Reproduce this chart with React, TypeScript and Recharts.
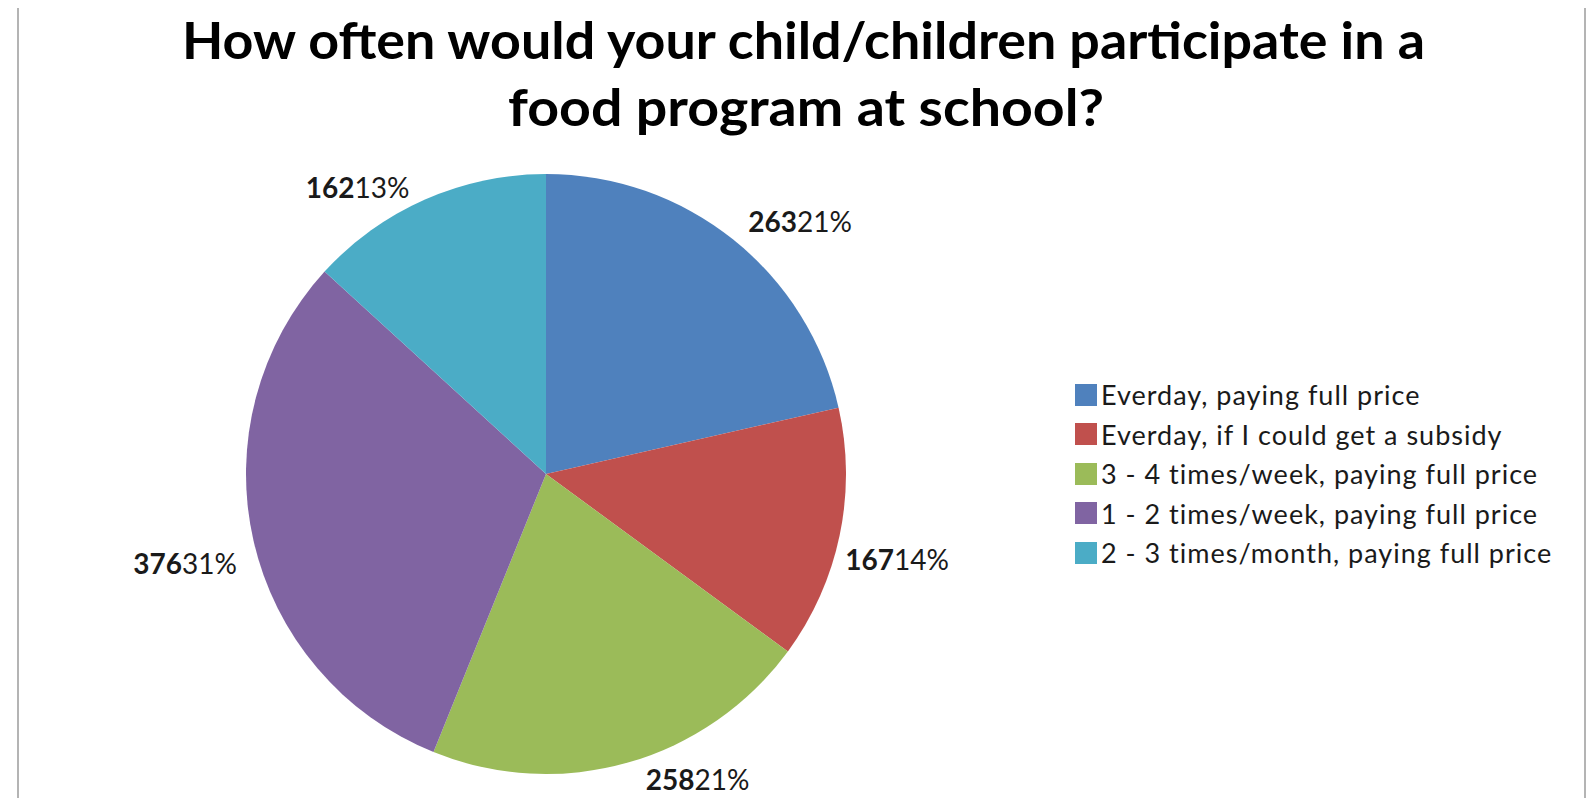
import { Cell, Legend, Pie, PieChart } from 'recharts';

const categories = [
  'Everday, paying full price',
  'Everday, if I could get a subsidy',
  '3 - 4 times/week, paying full price',
  '1 - 2 times/week, paying full price',
  '2 - 3 times/month, paying full price',
];
const counts = [263, 167, 258, 376, 162];
const colors = ['#4F81BD', '#C0504D', '#9BBB59', '#8064A2', '#4BACC6'];
const titleLines = ['How often would your child/children participate in a', 'food program at school?'];

const total = counts.reduce((s, v) => s + v, 0);
const data = categories.map((name, i) => ({ name, value: counts[i] }));

// excel "best fit" label placement drifts a bit from the mid angle
const labelNudge = [
  [0, 0],
  [-18, 19],
  [63, -7],
  [7, 17],
  [-6, 9],
];

const FONT = 'Lato, "Open Sans", sans-serif';
const RADIAN = Math.PI / 180;

function renderLabel(props: any) {
  const { cx, cy, midAngle, outerRadius, index, value } = props;
  const r = outerRadius + 24;
  const cos = Math.cos(-midAngle * RADIAN);
  const sin = Math.sin(-midAngle * RADIAN);
  const anchor = cos > 0.3 ? 'start' : cos < -0.3 ? 'end' : 'middle';
  const x = cx + r * cos + labelNudge[index][0];
  const y = cy + r * sin + labelNudge[index][1];
  const pct = Math.round((value / total) * 100);
  return (
    <text
      x={x}
      y={y}
      textAnchor={anchor}
      dominantBaseline="central"
      fontFamily={FONT}
      fontSize={28}
      fill="#1a1a1a"
    >
      <tspan fontWeight={700}>{value}</tspan>
      <tspan fontWeight={400}>{pct}%</tspan>
    </text>
  );
}

function LegendBox() {
  return (
    <div style={{ fontFamily: FONT, fontSize: 27, letterSpacing: 1, color: '#1a1a1a' }}>
      {categories.map((c, i) => (
        <div key={c} style={{ display: 'flex', alignItems: 'center', height: 39.5, whiteSpace: 'nowrap' }}>
          <span style={{ width: 22, height: 22, background: colors[i], marginRight: 4, display: 'inline-block' }} />
          <span>{c}</span>
        </div>
      ))}
    </div>
  );
}

export default function App() {
  return (
    <div style={{ position: 'absolute', left: 0, top: 0, width: 1591, height: 798, background: '#fff' }}>
      <div style={{ position: 'absolute', left: 17, top: 8, width: 2, height: 790, background: '#b4b4b4' }} />
      <div style={{ position: 'absolute', left: 1584, top: 8, width: 2, height: 790, background: '#b4b4b4' }} />
      <svg width={1591} height={140} style={{ position: 'absolute', left: 0, top: 0 }}>
        <text
          x={182}
          y={59}
          fontFamily={FONT}
          fontWeight={700}
          fontSize={52}
          textLength={1243}
          lengthAdjust="spacingAndGlyphs"
          fill="#000"
        >
          {titleLines[0]}
        </text>
        <text
          x={508}
          y={126}
          fontFamily={FONT}
          fontWeight={700}
          fontSize={52}
          textLength={596}
          lengthAdjust="spacingAndGlyphs"
          fill="#000"
        >
          {titleLines[1]}
        </text>
      </svg>
      <div style={{ position: 'absolute', left: 0, top: 0 }}>
        <PieChart width={1591} height={798}>
          <Pie
            data={data}
            dataKey="value"
            nameKey="name"
            cx={541}
            cy={469}
            outerRadius={300}
            startAngle={90}
            endAngle={-270}
            stroke="none"
            label={renderLabel}
            labelLine={false}
            isAnimationActive={false}
          >
            {data.map((d, i) => (
              <Cell key={d.name} fill={colors[i]} />
            ))}
          </Pie>
          <Legend
            content={() => <LegendBox />}
            wrapperStyle={{ position: 'absolute', left: 1075, top: 375, width: 'auto' }}
          />
        </PieChart>
      </div>
    </div>
  );
}
